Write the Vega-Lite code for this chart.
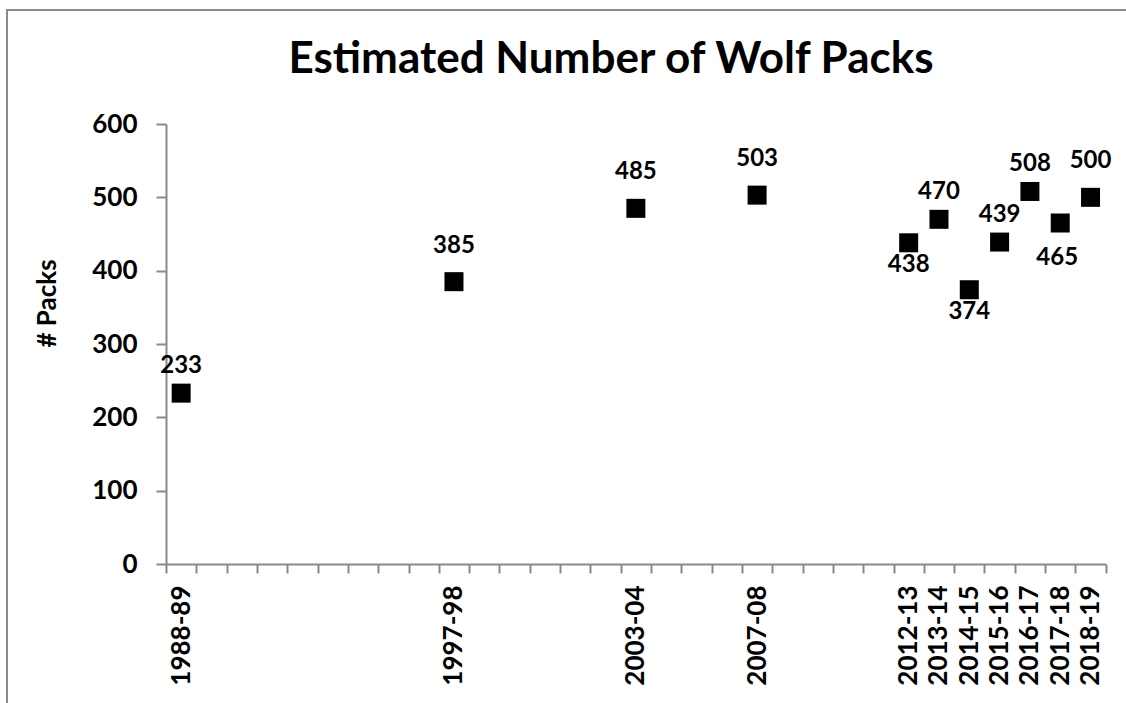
{
  "$schema": "https://vega.github.io/schema/vega-lite/v6.json",
  "autosize": "none",
  "padding": {"left": 7, "top": 10, "right": 0, "bottom": 0},
  "width": 1122,
  "height": 696,
  "background": "white",
  "config": {
    "font": "Lato",
    "view": {"stroke": "#898989", "strokeWidth": 2},
    "axis": {
      "domainColor": "#898989",
      "domainWidth": 2,
      "tickColor": "#898989",
      "tickWidth": 2,
      "labelColor": "#000000",
      "labelFont": "Lato",
      "labelFontWeight": "bold",
      "titleFont": "Lato",
      "titleFontWeight": "bold",
      "titleColor": "#000000",
      "grid": false
    },
    "text": {"font": "Lato", "fontWeight": "bold", "fontSize": 24, "color": "#000000"}
  },
  "title": {
    "text": "Estimated Number of Wolf Packs",
    "font": "Lato",
    "fontSize": 44,
    "fontWeight": "bold",
    "color": "#000000",
    "anchor": "middle",
    "frame": "group",
    "baseline": "alphabetic",
    "offset": 0,
    "dx": 43,
    "dy": 107
  },
  "data": {
    "values": [
      {"season": "1988-89", "year": 1988, "packs": 233},
      {"season": "1997-98", "year": 1997, "packs": 385},
      {"season": "2003-04", "year": 2003, "packs": 485},
      {"season": "2007-08", "year": 2007, "packs": 503},
      {"season": "2012-13", "year": 2012, "packs": 438},
      {"season": "2013-14", "year": 2013, "packs": 470},
      {"season": "2014-15", "year": 2014, "packs": 374},
      {"season": "2015-16", "year": 2015, "packs": 439},
      {"season": "2016-17", "year": 2016, "packs": 508},
      {"season": "2017-18", "year": 2017, "packs": 465},
      {"season": "2018-19", "year": 2018, "packs": 500}
    ]
  },
  "resolve": {"axis": {"x": "independent"}},
  "layer": [
    {
      "mark": {"type": "square", "filled": true, "color": "#000000", "opacity": 1, "size": 361},
      "encoding": {
        "x": {
          "field": "year",
          "type": "quantitative",
          "scale": {"domain": [1987.5, 2018.5], "range": [159, 1098.7], "nice": false, "zero": false},
          "axis": {
            "orient": "bottom",
            "offset": -142,
            "title": null,
            "labels": false,
            "tickSize": 9,
            "values": [1987.5, 1988.5, 1989.5, 1990.5, 1991.5, 1992.5, 1993.5, 1994.5, 1995.5, 1996.5, 1997.5, 1998.5, 1999.5, 2000.5, 2001.5, 2002.5, 2003.5, 2004.5, 2005.5, 2006.5, 2007.5, 2008.5, 2009.5, 2010.5, 2011.5, 2012.5, 2013.5, 2014.5, 2015.5, 2016.5, 2017.5, 2018.5]
          }
        },
        "y": {
          "field": "packs",
          "type": "quantitative",
          "scale": {"domain": [0, 600], "range": [554, 114], "nice": false},
          "axis": {
            "offset": -159,
            "values": [0, 100, 200, 300, 400, 500, 600],
            "tickSize": 10,
            "labelFontSize": 26,
            "labelPadding": 19,
            "title": "# Packs",
            "titleFontSize": 26,
            "titleX": -119,
            "titleY": 293,
            "titleBaseline": "middle",
            "titleAlign": "center",
            "titleAngle": -90
          }
        }
      }
    },
    {
      "transform": [{"filter": {"field": "season", "oneOf": ["1997-98", "2003-04", "2007-08", "2018-19"]}}],
      "mark": {"type": "text", "dy": -36},
      "encoding": {
        "x": {
          "field": "year",
          "type": "quantitative",
          "scale": {"domain": [1987.5, 2018.5], "range": [159, 1098.7], "nice": false, "zero": false},
          "axis": {
            "orient": "bottom",
            "offset": -142,
            "title": null,
            "domain": false,
            "ticks": false,
            "tickSize": 0,
            "labelAngle": -90,
            "labelAlign": "right",
            "labelBaseline": "middle",
            "labelFontSize": 26,
            "labelPadding": 21,
            "labelOverlap": false,
            "values": [1988, 1997, 2003, 2007, 2012, 2013, 2014, 2015, 2016, 2017, 2018],
            "labelExpr": "datum.value + '-' + slice('0' + ((datum.value + 1) % 100), -2)"
          }
        },
        "y": {"field": "packs", "type": "quantitative"},
        "text": {"field": "packs", "type": "quantitative"}
      }
    },
    {
      "transform": [{"filter": {"field": "season", "oneOf": ["1988-89", "2013-14", "2015-16", "2016-17"]}}],
      "mark": {"type": "text", "dy": -27},
      "encoding": {
        "x": {"field": "year", "type": "quantitative", "axis": null},
        "y": {"field": "packs", "type": "quantitative"},
        "text": {"field": "packs", "type": "quantitative"}
      }
    },
    {
      "transform": [{"filter": {"field": "season", "oneOf": ["2012-13", "2014-15"]}}],
      "mark": {"type": "text", "dy": 22},
      "encoding": {
        "x": {"field": "year", "type": "quantitative", "axis": null},
        "y": {"field": "packs", "type": "quantitative"},
        "text": {"field": "packs", "type": "quantitative"}
      }
    },
    {
      "transform": [{"filter": {"field": "season", "oneOf": ["2017-18"]}}],
      "mark": {"type": "text", "dy": 35, "dx": -3},
      "encoding": {
        "x": {"field": "year", "type": "quantitative", "axis": null},
        "y": {"field": "packs", "type": "quantitative"},
        "text": {"field": "packs", "type": "quantitative"}
      }
    }
  ]
}
